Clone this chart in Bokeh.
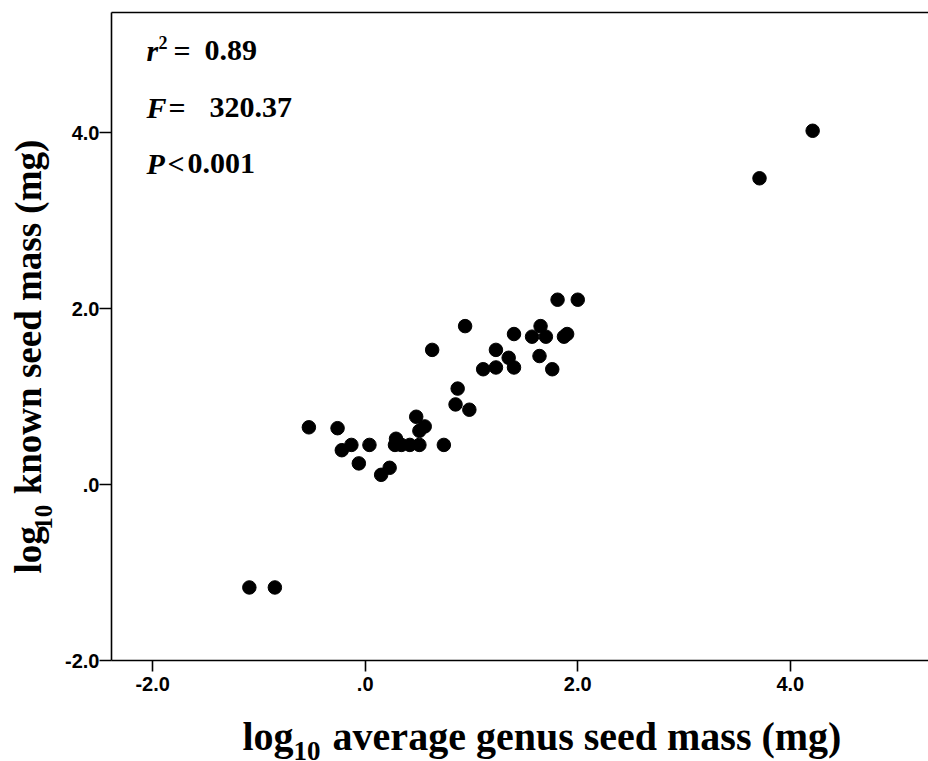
import math
from bokeh.plotting import figure
from bokeh.layouts import row, column
from bokeh.models import Range1d, FixedTicker, LinearAxis, Label, ColumnDataSource
from bokeh.embed import file_html
from bokeh.resources import INLINE

# ---- data ----
genus_log_mass = [-1.09, -0.85, -0.53, -0.26, -0.13, -0.22, 0.04, -0.06, 0.15, 0.23,
                  0.29, 0.28, 0.34, 0.42, 0.51, 0.74, 0.48, 0.56, 0.51, 0.63,
                  0.87, 0.85, 0.98, 0.94, 1.11, 1.23, 1.23, 1.35, 1.40, 1.40,
                  1.57, 1.65, 1.70, 1.64, 1.76, 1.81, 2.00, 1.87, 1.90, 3.71, 4.21]
known_log_mass = [-1.17, -1.17, 0.65, 0.64, 0.45, 0.39, 0.45, 0.24, 0.11, 0.19,
                  0.52, 0.45, 0.45, 0.45, 0.45, 0.45, 0.77, 0.66, 0.61, 1.53,
                  1.09, 0.91, 0.85, 1.80, 1.31, 1.33, 1.53, 1.44, 1.33, 1.71,
                  1.68, 1.80, 1.68, 1.46, 1.31, 2.10, 2.10, 1.68, 1.71, 3.48, 4.02]
tick_values = [-2, 0, 2, 4]
tick_labels = ["-2.0", ".0", "2.0", "4.0"]
stats_r2 = "0.89"
stats_F = "320.37"
stats_P = "0.001"
x_title = "average genus seed mass (mg)"
y_title = "known seed mass (mg)"

SERIF = "Liberation Serif"
BASE_CORR = 0.35   # renderer draws "alphabetic" text this many em lower

# ---- layout constants (page pixels) ----
PAGE_W, PAGE_H = 928, 761
LW = 62
TOPH = 700
MAIN_W = PAGE_W - LW
B_LEFT, B_TOP, B_BOTTOM = 48, 12, 40
X0, X1 = -2.387, 5.30
Y0, Y1 = -2.0, 5.364
FW = MAIN_W - B_LEFT
FH = TOPH - B_TOP - B_BOTTOM
ppx = FW / (X1 - X0)
ppy = FH / (Y1 - Y0)

def dx(page_x):
    return X0 + (page_x - LW - B_LEFT) / ppx

def dy(page_y):
    return Y1 - (page_y - B_TOP) / ppy

# ---- main plot ----
fig = figure(width=MAIN_W, height=TOPH, output_backend="svg", toolbar_location=None,
             x_range=Range1d(X0, X1), y_range=Range1d(Y0, Y1),
             min_border_left=B_LEFT, min_border_top=B_TOP, min_border_bottom=B_BOTTOM,
             min_border_right=0)
fig.outline_line_color = None
fig.grid.visible = False

for ax in (fig.xaxis[0], fig.yaxis[0]):
    ax.ticker = FixedTicker(ticks=tick_values)
    ax.major_label_overrides = {v: s for v, s in zip(tick_values, tick_labels)}
    ax.major_label_text_font = "Liberation Sans"
    ax.major_label_text_font_style = "bold"
    ax.major_label_text_font_size = "20px"
    ax.major_label_text_color = "black"
    ax.axis_line_width = 1.6
    ax.axis_line_color = "black"
    ax.major_tick_line_color = "black"
    ax.major_tick_line_width = 1.6
    ax.major_tick_in = 0
    ax.minor_tick_line_color = None
fig.xaxis[0].major_tick_out = 11
fig.xaxis[0].major_label_standoff = 5
fig.yaxis[0].major_tick_out = 12
fig.yaxis[0].major_label_standoff = 0

top_axis = LinearAxis(ticker=FixedTicker(ticks=[]), major_tick_line_color=None,
                      major_tick_out=0, major_label_standoff=0,
                      minor_tick_line_color=None, major_label_text_font_size="0px",
                      axis_line_width=1.6, axis_line_color="black")
fig.add_layout(top_axis, "above")

src = ColumnDataSource(dict(x=genus_log_mass, y=known_log_mass))
fig.scatter("x", "y", source=src, size=13.5, fill_color="black", line_color="black")

def stat(text, px, py, size, style="bold"):
    py = py - BASE_CORR * size
    fig.add_layout(Label(x=dx(px), y=dy(py), text=text, text_font=SERIF,
                         text_font_style=style, text_font_size=f"{size}px",
                         text_color="black", text_align="left",
                         text_baseline="alphabetic"))

stat("r", 145, 60, 30, "bold italic")
stat("2", 157, 48, 18)
stat("=", 172, 60, 30)
stat(stats_r2, 203, 60, 30)
stat("F", 145, 117, 30, "bold italic")
stat("=", 167, 117, 30)
stat(stats_F, 208, 117, 30)
stat("P", 145, 173, 30, "bold italic")
stat("<", 166, 173, 30)
stat(stats_P, 186, 173, 30)

# ---- helper strips for the axis titles ----
def strip(w, h):
    f = figure(width=w, height=h, output_backend="svg", toolbar_location=None,
               x_range=Range1d(0, w), y_range=Range1d(0, h),
               x_axis_location=None, y_axis_location=None, min_border=0)
    f.grid.visible = False
    f.outline_line_color = None
    return f

def put(f, h, text, lx, ly, size, angle=0.0):
    f.add_layout(Label(x=lx, y=h - ly, text=text, text_font=SERIF,
                       text_font_style="bold", text_font_size=f"{size}px",
                       text_color="black", text_align="left",
                       text_baseline="alphabetic", angle=angle))

# y title strip (page x 0..LW, y 0..TOPH)
ystrip = strip(LW, TOPH)
ys = 37
a = math.pi / 2
ycx = -0.38 * ys      # measured baseline correction (horizontal for rotated text)
ycy = 33              # measured shift along the rotated text
y_start = 573 + ycy
put(ystrip, TOPH, "log", 42 + ycx, y_start, ys, a)
put(ystrip, TOPH, "10", 52 + ycx * 25 / ys, y_start - 1.278 * ys, 25, a)
put(ystrip, TOPH, y_title, 42 + ycx, y_start - 1.278 * ys - 25 - 0.25 * ys - 4, ys, a)

# x title strip (page y TOPH..PAGE_H)
BH = PAGE_H - TOPH
xstrip = strip(PAGE_W, BH)
xs = 40
put(xstrip, BH, "log", 242, 750 - TOPH - BASE_CORR * xs, xs)
put(xstrip, BH, "10", 242 + 1.278 * xs, 760 - TOPH - BASE_CORR * 27, 27)
put(xstrip, BH, x_title, 242 + 1.278 * xs + 27 + 0.25 * xs + 2, 750 - TOPH - BASE_CORR * xs, xs)

p = column(row(ystrip, fig, spacing=0), xstrip, spacing=0)

open("out.html", "w").write(file_html(p, INLINE))
